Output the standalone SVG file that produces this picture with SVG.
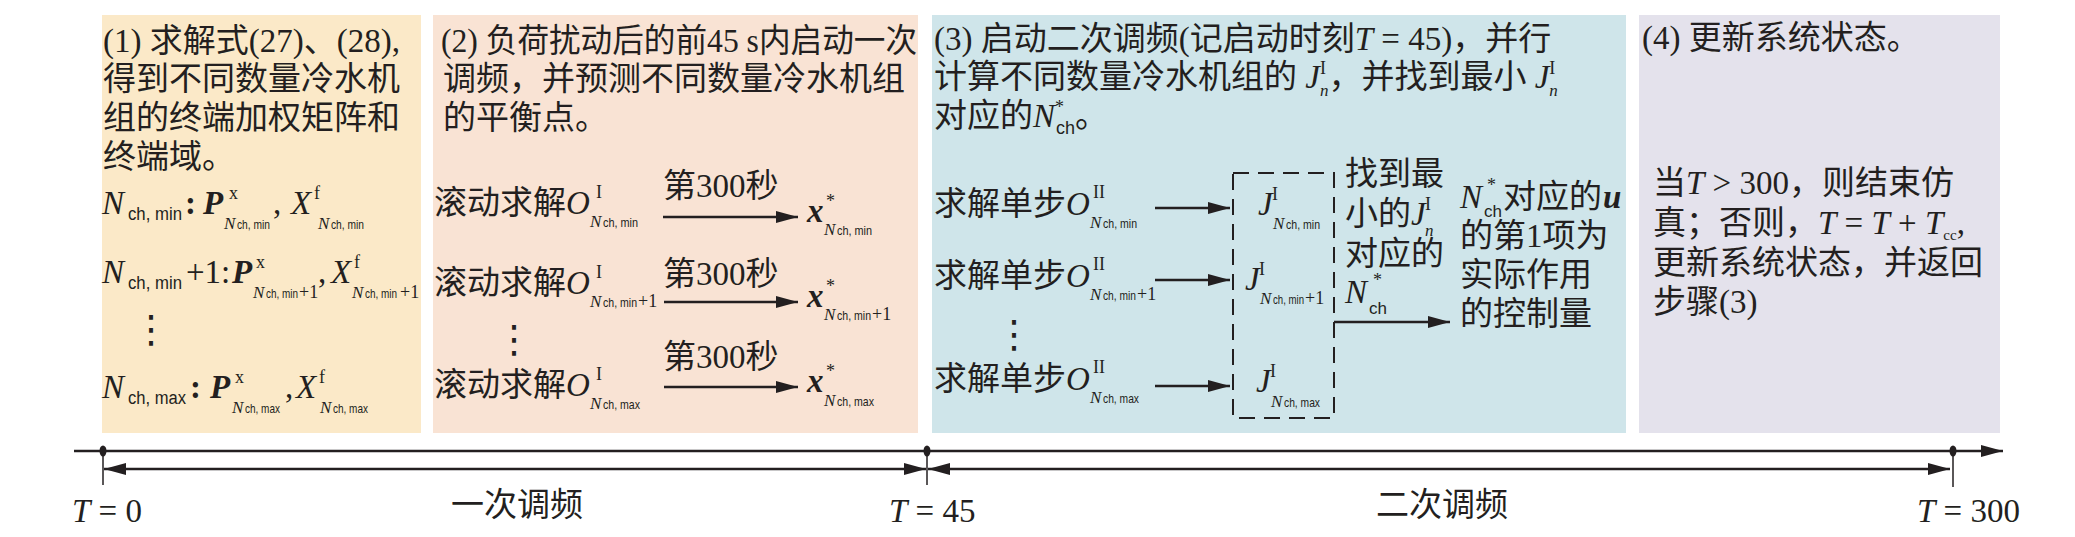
<svg xmlns="http://www.w3.org/2000/svg" width="2075" height="537" viewBox="0 0 2075 537">
<style>
.t{font-family:"Liberation Serif","Noto Sans CJK SC",serif;font-size:33px;fill:#231f20}
.i{font-style:italic}
.bi{font-style:italic;font-weight:bold}
.b{font-weight:bold}
.sup{font-size:18px;font-style:normal}
.sub{font-size:17px;font-style:italic}
.ss{font-family:"Liberation Sans",sans-serif;font-size:13px;font-style:normal}
.s1{font-family:"Liberation Sans",sans-serif;font-size:18px;font-style:normal}
.s2{font-family:"Liberation Sans",sans-serif;font-size:17px;font-style:normal}
.dots{font-family:"DejaVu Sans",sans-serif;font-size:38px;fill:#231f20}
.ln{stroke:#231f20;stroke-width:2.5;fill:none}
.tk{stroke:#231f20;stroke-width:1.5;fill:none}
.dash{stroke:#231f20;stroke-width:2;fill:none;stroke-dasharray:16 9}
</style>
<defs>
<marker id="ah" viewBox="0 0 22 12" refX="22" refY="6" markerWidth="22" markerHeight="12" orient="auto-start-reverse" markerUnits="userSpaceOnUse">
<path d="M0,0 L22,6 L0,12 z" fill="#231f20"/>
</marker>
</defs>
<rect width="2075" height="537" fill="#ffffff"/>

<g id="step1">
<rect x="102" y="15" width="319" height="418" fill="#FBE9C8"/>
<text class="t" x="103" y="52">(1) 求解式(27)、(28),</text>
<text class="t" x="103" y="90">得到不同数量冷水机</text>
<text class="t" x="103" y="129">组的终端加权矩阵和</text>
<text class="t" x="103" y="168">终端域。</text>
<text class="t"><tspan class="i" x="102" y="214">N</tspan><tspan class="s1" x="128" y="220" textLength="54" lengthAdjust="spacingAndGlyphs">ch, min</tspan><tspan class="b" x="185" y="214">:</tspan><tspan class="bi" x="203" y="214">P</tspan><tspan class="sup" x="229" y="199">x</tspan><tspan class="sub" x="224" y="229">N</tspan><tspan class="ss" x="237" y="229" textLength="33" lengthAdjust="spacingAndGlyphs">ch, min</tspan><tspan x="273" y="214">,</tspan><tspan class="i" x="291" y="214">X</tspan><tspan class="sup" x="314" y="199">f</tspan><tspan class="sub" x="318" y="229">N</tspan><tspan class="ss" x="331" y="229" textLength="33" lengthAdjust="spacingAndGlyphs">ch, min</tspan></text>
<text class="t"><tspan class="i" x="102" y="283">N</tspan><tspan class="s1" x="128" y="289" textLength="54" lengthAdjust="spacingAndGlyphs">ch, min</tspan><tspan x="186" y="283">+1:</tspan><tspan class="bi" x="232" y="283">P</tspan><tspan class="sup" x="256" y="268">x</tspan><tspan class="sub" x="253" y="298">N</tspan><tspan class="ss" x="266" y="298" textLength="32" lengthAdjust="spacingAndGlyphs">ch, min</tspan><tspan class="sup" x="299" y="298">+1</tspan><tspan x="318" y="283">,</tspan><tspan class="i" x="331" y="283">X</tspan><tspan class="sup" x="354" y="268">f</tspan><tspan class="sub" x="352" y="298">N</tspan><tspan class="ss" x="365" y="298" textLength="32" lengthAdjust="spacingAndGlyphs">ch, min</tspan><tspan class="sup" x="400" y="298">+1</tspan></text>
<text class="dots" x="132" y="342">⋮</text>
<text class="t"><tspan class="i" x="102" y="398">N</tspan><tspan class="s1" x="128" y="404" textLength="58" lengthAdjust="spacingAndGlyphs">ch, max</tspan><tspan class="b" x="190" y="398">:</tspan><tspan class="bi" x="210" y="398">P</tspan><tspan class="sup" x="235" y="383">x</tspan><tspan class="sub" x="232" y="413">N</tspan><tspan class="ss" x="245" y="413" textLength="35" lengthAdjust="spacingAndGlyphs">ch, max</tspan><tspan x="285" y="398">,</tspan><tspan class="i" x="296" y="398">X</tspan><tspan class="sup" x="319" y="383">f</tspan><tspan class="sub" x="320" y="413">N</tspan><tspan class="ss" x="333" y="413" textLength="35" lengthAdjust="spacingAndGlyphs">ch, max</tspan></text>
</g>

<g id="step2">
<rect x="433" y="15" width="485" height="418" fill="#F9E3D4"/>
<text class="t" x="441" y="52" textLength="476" lengthAdjust="spacingAndGlyphs">(2) 负荷扰动后的前45 s内启动一次</text>
<text class="t" x="443" y="90">调频，并预测不同数量冷水机组</text>
<text class="t" x="443" y="129">的平衡点。</text>
<text class="t"><tspan x="434" y="214">滚动求解</tspan><tspan class="i" x="566" y="214">O</tspan><tspan class="sup" x="596" y="198">I</tspan><tspan class="sub" x="590" y="227">N</tspan><tspan class="ss" x="603" y="227" textLength="35" lengthAdjust="spacingAndGlyphs">ch, min</tspan></text>
<text class="t" x="663" y="197">第300秒</text>
<text class="t"><tspan class="bi" x="807" y="222">x</tspan><tspan class="sup" x="826" y="207">*</tspan><tspan class="sub" x="824" y="235">N</tspan><tspan class="ss" x="837" y="235" textLength="35" lengthAdjust="spacingAndGlyphs">ch, min</tspan></text>
<text class="t"><tspan x="434" y="294">滚动求解</tspan><tspan class="i" x="566" y="294">O</tspan><tspan class="sup" x="596" y="278">I</tspan><tspan class="sub" x="590" y="307">N</tspan><tspan class="ss" x="603" y="307" textLength="34" lengthAdjust="spacingAndGlyphs">ch, min</tspan><tspan class="sup" x="638" y="307">+1</tspan></text>
<text class="t" x="663" y="285">第300秒</text>
<text class="t"><tspan class="bi" x="807" y="307">x</tspan><tspan class="sup" x="826" y="292">*</tspan><tspan class="sub" x="824" y="320">N</tspan><tspan class="ss" x="837" y="320" textLength="34" lengthAdjust="spacingAndGlyphs">ch, min</tspan><tspan class="sup" x="872" y="320">+1</tspan></text>
<text class="dots" x="495" y="352">⋮</text>
<text class="t"><tspan x="434" y="396">滚动求解</tspan><tspan class="i" x="566" y="396">O</tspan><tspan class="sup" x="596" y="380">I</tspan><tspan class="sub" x="590" y="409">N</tspan><tspan class="ss" x="603" y="409" textLength="37" lengthAdjust="spacingAndGlyphs">ch, max</tspan></text>
<text class="t" x="663" y="368">第300秒</text>
<text class="t"><tspan class="bi" x="807" y="392">x</tspan><tspan class="sup" x="826" y="377">*</tspan><tspan class="sub" x="824" y="406">N</tspan><tspan class="ss" x="837" y="406" textLength="37" lengthAdjust="spacingAndGlyphs">ch, max</tspan></text>
</g>

<g id="step3">
<rect x="932" y="15" width="694" height="418" fill="#CFE5EA"/>
<text class="t" x="934" y="50">(3) 启动二次调频(记启动时刻<tspan class="i">T</tspan> = 45)，并行</text>
<text class="t" x="934" y="88">计算不同数量冷水机组的 <tspan class="i">J</tspan><tspan class="sup" dy="-14">I</tspan><tspan class="sub" dx="-6" dy="22">n</tspan><tspan dy="-8">，并找到最小 </tspan><tspan class="i">J</tspan><tspan class="sup" dy="-14">I</tspan><tspan class="sub" dx="-6" dy="22">n</tspan></text>
<text class="t" x="934" y="127">对应的<tspan class="i">N</tspan><tspan class="sup" dy="-14">*</tspan><tspan class="s1" dx="-8" dy="21">ch</tspan><tspan dy="-7">。</tspan></text>
<text class="t"><tspan x="934" y="215">求解单步</tspan><tspan class="i" x="1066" y="215">O</tspan><tspan class="sup" x="1093" y="198">II</tspan><tspan class="sub" x="1090" y="228">N</tspan><tspan class="ss" x="1103" y="228" textLength="34" lengthAdjust="spacingAndGlyphs">ch, min</tspan></text>
<text class="t"><tspan x="934" y="287">求解单步</tspan><tspan class="i" x="1066" y="287">O</tspan><tspan class="sup" x="1093" y="270">II</tspan><tspan class="sub" x="1090" y="300">N</tspan><tspan class="ss" x="1103" y="300" textLength="33" lengthAdjust="spacingAndGlyphs">ch, min</tspan><tspan class="sup" x="1137" y="300">+1</tspan></text>
<text class="dots" x="995" y="347">⋮</text>
<text class="t"><tspan x="934" y="390">求解单步</tspan><tspan class="i" x="1066" y="390">O</tspan><tspan class="sup" x="1093" y="373">II</tspan><tspan class="sub" x="1090" y="403">N</tspan><tspan class="ss" x="1103" y="403" textLength="36" lengthAdjust="spacingAndGlyphs">ch, max</tspan></text>
<rect class="dash" x="1233" y="173" width="101" height="245"/>
<text class="t"><tspan class="i" x="1258" y="215">J</tspan><tspan class="sup" x="1272" y="200">I</tspan><tspan class="sub" x="1273" y="229">N</tspan><tspan class="ss" x="1286" y="229" textLength="34" lengthAdjust="spacingAndGlyphs">ch, min</tspan></text>
<text class="t"><tspan class="i" x="1245" y="290">J</tspan><tspan class="sup" x="1259" y="275">I</tspan><tspan class="sub" x="1260" y="304">N</tspan><tspan class="ss" x="1273" y="304" textLength="31" lengthAdjust="spacingAndGlyphs">ch, min</tspan><tspan class="sup" x="1305" y="304">+1</tspan></text>
<text class="t"><tspan class="i" x="1256" y="392">J</tspan><tspan class="sup" x="1270" y="377">I</tspan><tspan class="sub" x="1271" y="407">N</tspan><tspan class="ss" x="1284" y="407" textLength="36" lengthAdjust="spacingAndGlyphs">ch, max</tspan></text>
<text class="t" x="1345" y="185">找到最</text>
<text class="t"><tspan x="1345" y="225">小的</tspan><tspan class="i" x="1411" y="225">J</tspan><tspan class="sup" x="1425" y="210">I</tspan><tspan class="sub" x="1425" y="236">n</tspan></text>
<text class="t" x="1345" y="265">对应的</text>
<text class="t"><tspan class="i" x="1345" y="303">N</tspan><tspan class="sup" x="1373" y="286">*</tspan><tspan class="s2" x="1369" y="314">ch</tspan></text>
<text class="t"><tspan class="i" x="1460" y="208">N</tspan><tspan class="sup" x="1487" y="191">*</tspan><tspan class="s2" x="1484" y="217">ch</tspan><tspan x="1503" y="208">对应的</tspan><tspan class="bi" x="1603" y="208">u</tspan></text>
<text class="t" x="1460" y="247">的第1项为</text>
<text class="t" x="1460" y="286">实际作用</text>
<text class="t" x="1460" y="325">的控制量</text>
</g>

<g id="step4">
<rect x="1639" y="15" width="361" height="418" fill="#E4E2EC"/>
<text class="t" x="1642" y="49">(4) 更新系统状态。</text>
<text class="t" x="1653" y="194">当<tspan class="i">T</tspan> &gt; 300，则结束仿</text>
<text class="t" x="1653" y="234">真；否则，<tspan class="i">T</tspan> = <tspan class="i">T</tspan> + <tspan class="i">T</tspan><tspan font-size="15" dy="6">cc</tspan><tspan dy="-6">,</tspan></text>
<text class="t" x="1653" y="274">更新系统状态，并返回</text>
<text class="t" x="1653" y="313">步骤(3)</text>
</g>

<g id="connectors">
<line class="ln" x1="663" y1="217" x2="798" y2="217" marker-end="url(#ah)"/>
<line class="ln" x1="664" y1="302" x2="798" y2="302" marker-end="url(#ah)"/>
<line class="ln" x1="664" y1="387" x2="798" y2="387" marker-end="url(#ah)"/>
<line class="ln" x1="1155" y1="208" x2="1230" y2="208" marker-end="url(#ah)"/>
<line class="ln" x1="1155" y1="280" x2="1230" y2="280" marker-end="url(#ah)"/>
<line class="ln" x1="1155" y1="386" x2="1230" y2="386" marker-end="url(#ah)"/>
<line class="ln" x1="1334" y1="322" x2="1450" y2="322" marker-end="url(#ah)"/>
</g>

<g id="timeline">
<line class="ln" x1="74" y1="451" x2="2003" y2="451" marker-end="url(#ah)"/>
<line class="tk" x1="103" y1="451" x2="103" y2="485"/>
<line class="tk" x1="927" y1="451" x2="927" y2="485"/>
<line class="tk" x1="1953" y1="451" x2="1953" y2="487"/>
<ellipse cx="103" cy="451" rx="3.5" ry="5.5" fill="#231f20"/>
<ellipse cx="927" cy="451" rx="3.5" ry="5.5" fill="#231f20"/>
<ellipse cx="1953" cy="451" rx="3.5" ry="5.5" fill="#231f20"/>
<line class="ln" x1="104" y1="469" x2="926" y2="469" marker-start="url(#ah)" marker-end="url(#ah)"/>
<line class="ln" x1="928" y1="469" x2="1950" y2="469" marker-start="url(#ah)" marker-end="url(#ah)"/>
<text class="t" x="72" y="522" font-size="29"><tspan class="i">T</tspan> = 0</text>
<text class="t" x="451" y="516">一次调频</text>
<text class="t" x="889" y="522" font-size="29"><tspan class="i">T</tspan> = 45</text>
<text class="t" x="1376" y="516">二次调频</text>
<text class="t" x="1917" y="522" font-size="29"><tspan class="i">T</tspan> = 300</text>
</g>
</svg>
